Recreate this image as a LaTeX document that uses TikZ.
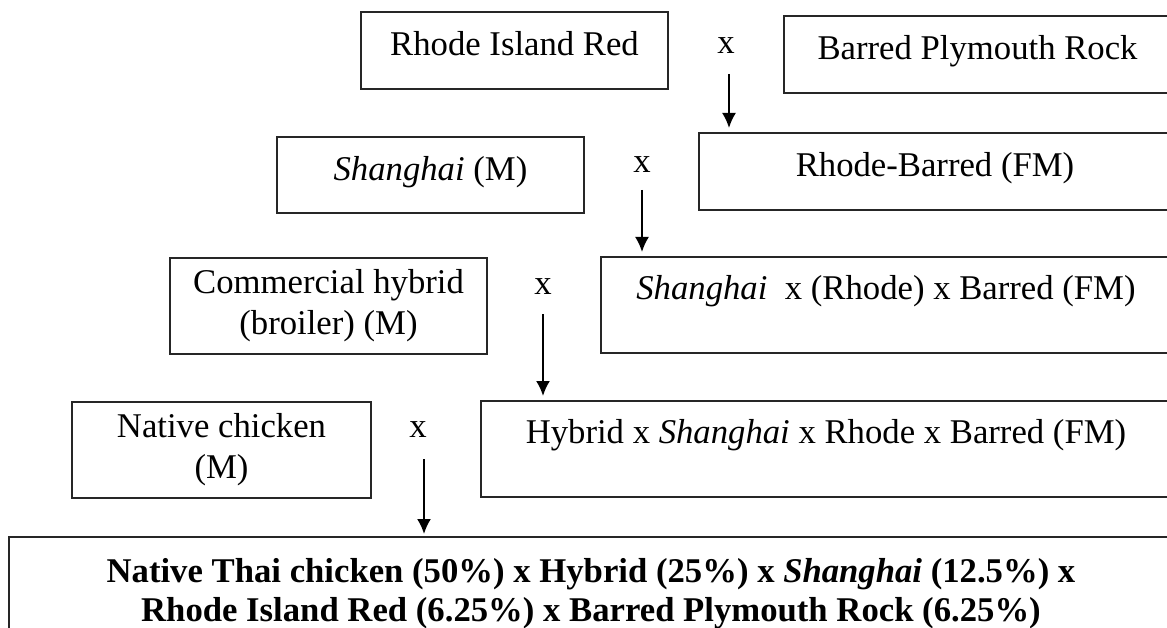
\documentclass[tikz,border=0pt]{standalone}
\usepackage{fontspec}
\setmainfont{Liberation Serif}
\usetikzlibrary{
	arrows.meta		% Allows Latex[length=..] style tips
}

\begin{document}
\begin{tikzpicture}[x=1pt, y=-1pt,
	breed/.style={draw=black!85, line width=2pt, inner sep=0pt, align=center,
		font=\fontsize{34.7}{41}\selectfont},
	oneline/.style={text height=23pt, text depth=12pt},
	topline/.style={text height=23pt, text depth=35pt},
	crossmark/.style={inner sep=0pt, font=\fontsize{34.7}{41}\selectfont},
	offspring/.style={-{Latex[length=15pt,width=14pt]}, line width=2pt, shorten >=4pt}]

	\useasboundingbox (0,0) rectangle (1167,628);

	%% Cross 1
	\node[breed, oneline, minimum width=307pt, minimum height=77pt] (rir) at (514.5,50.5) {Rhode Island Red};
	\node[breed, oneline, minimum width=387pt, minimum height=77pt] (bpr) at (977.5,54.5) {Barred Plymouth Rock};
	\node[crossmark] (x1) at (726,46) {x};

	%% Cross 2
	\node[breed, oneline, minimum width=307pt, minimum height=76pt] (sh) at (430.5,175) {\textit{Shanghai} (M)};
	\node[breed, oneline, minimum width=472pt, minimum height=77pt] (rb) at (935,171.5) {Rhode-Barred (FM)};
	\node[crossmark] (x2) at (642,165) {x};

	%% Cross 3
	\node[breed, minimum width=317pt, minimum height=96pt] (ch) at (328.5,306) {Commercial hybrid\\(broiler) (M)};
	\node[breed, topline, minimum width=570pt, minimum height=96pt] (srb) at (886,305) {\textit{Shanghai}~ x (Rhode) x Barred (FM)};
	\node[crossmark] (x3) at (543,287) {x};

	%% Cross 4
	\node[breed, minimum width=299pt, minimum height=96pt] (nc) at (221.5,450) {Native chicken\\(M)};
	\node[breed, topline, minimum width=690pt, minimum height=96pt] (hsrb) at (826,449) {Hybrid x \textit{Shanghai} x Rhode x Barred (FM)};
	\node[crossmark] (x4) at (418,430) {x};

	%% Result
	\node[breed, minimum width=1164pt, minimum height=103pt, font=\fontsize{34.7}{39}\selectfont\bfseries] (thai) at (591,588.5)
		{\rule{0pt}{34pt}Native Thai chicken (50\%) x Hybrid (25\%) x \textit{Shanghai} (12.5\%) x\\Rhode Island Red (6.25\%) x Barred Plymouth Rock (6.25\%)};

	% Arrows
	\coordinate (s1) at (729,74);
	\coordinate (s2) at (642,190);
	\coordinate (s3) at (543,314);
	\coordinate (s4) at (424,459);
	\draw[offspring] (s1) -- (s1 |- rb.north);
	\draw[offspring] (s2) -- (s2 |- srb.north);
	\draw[offspring] (s3) -- (s3 |- hsrb.north);
	\draw[offspring, shorten >=2pt] (s4) -- (s4 |- thai.north);
\end{tikzpicture}
\end{document}
